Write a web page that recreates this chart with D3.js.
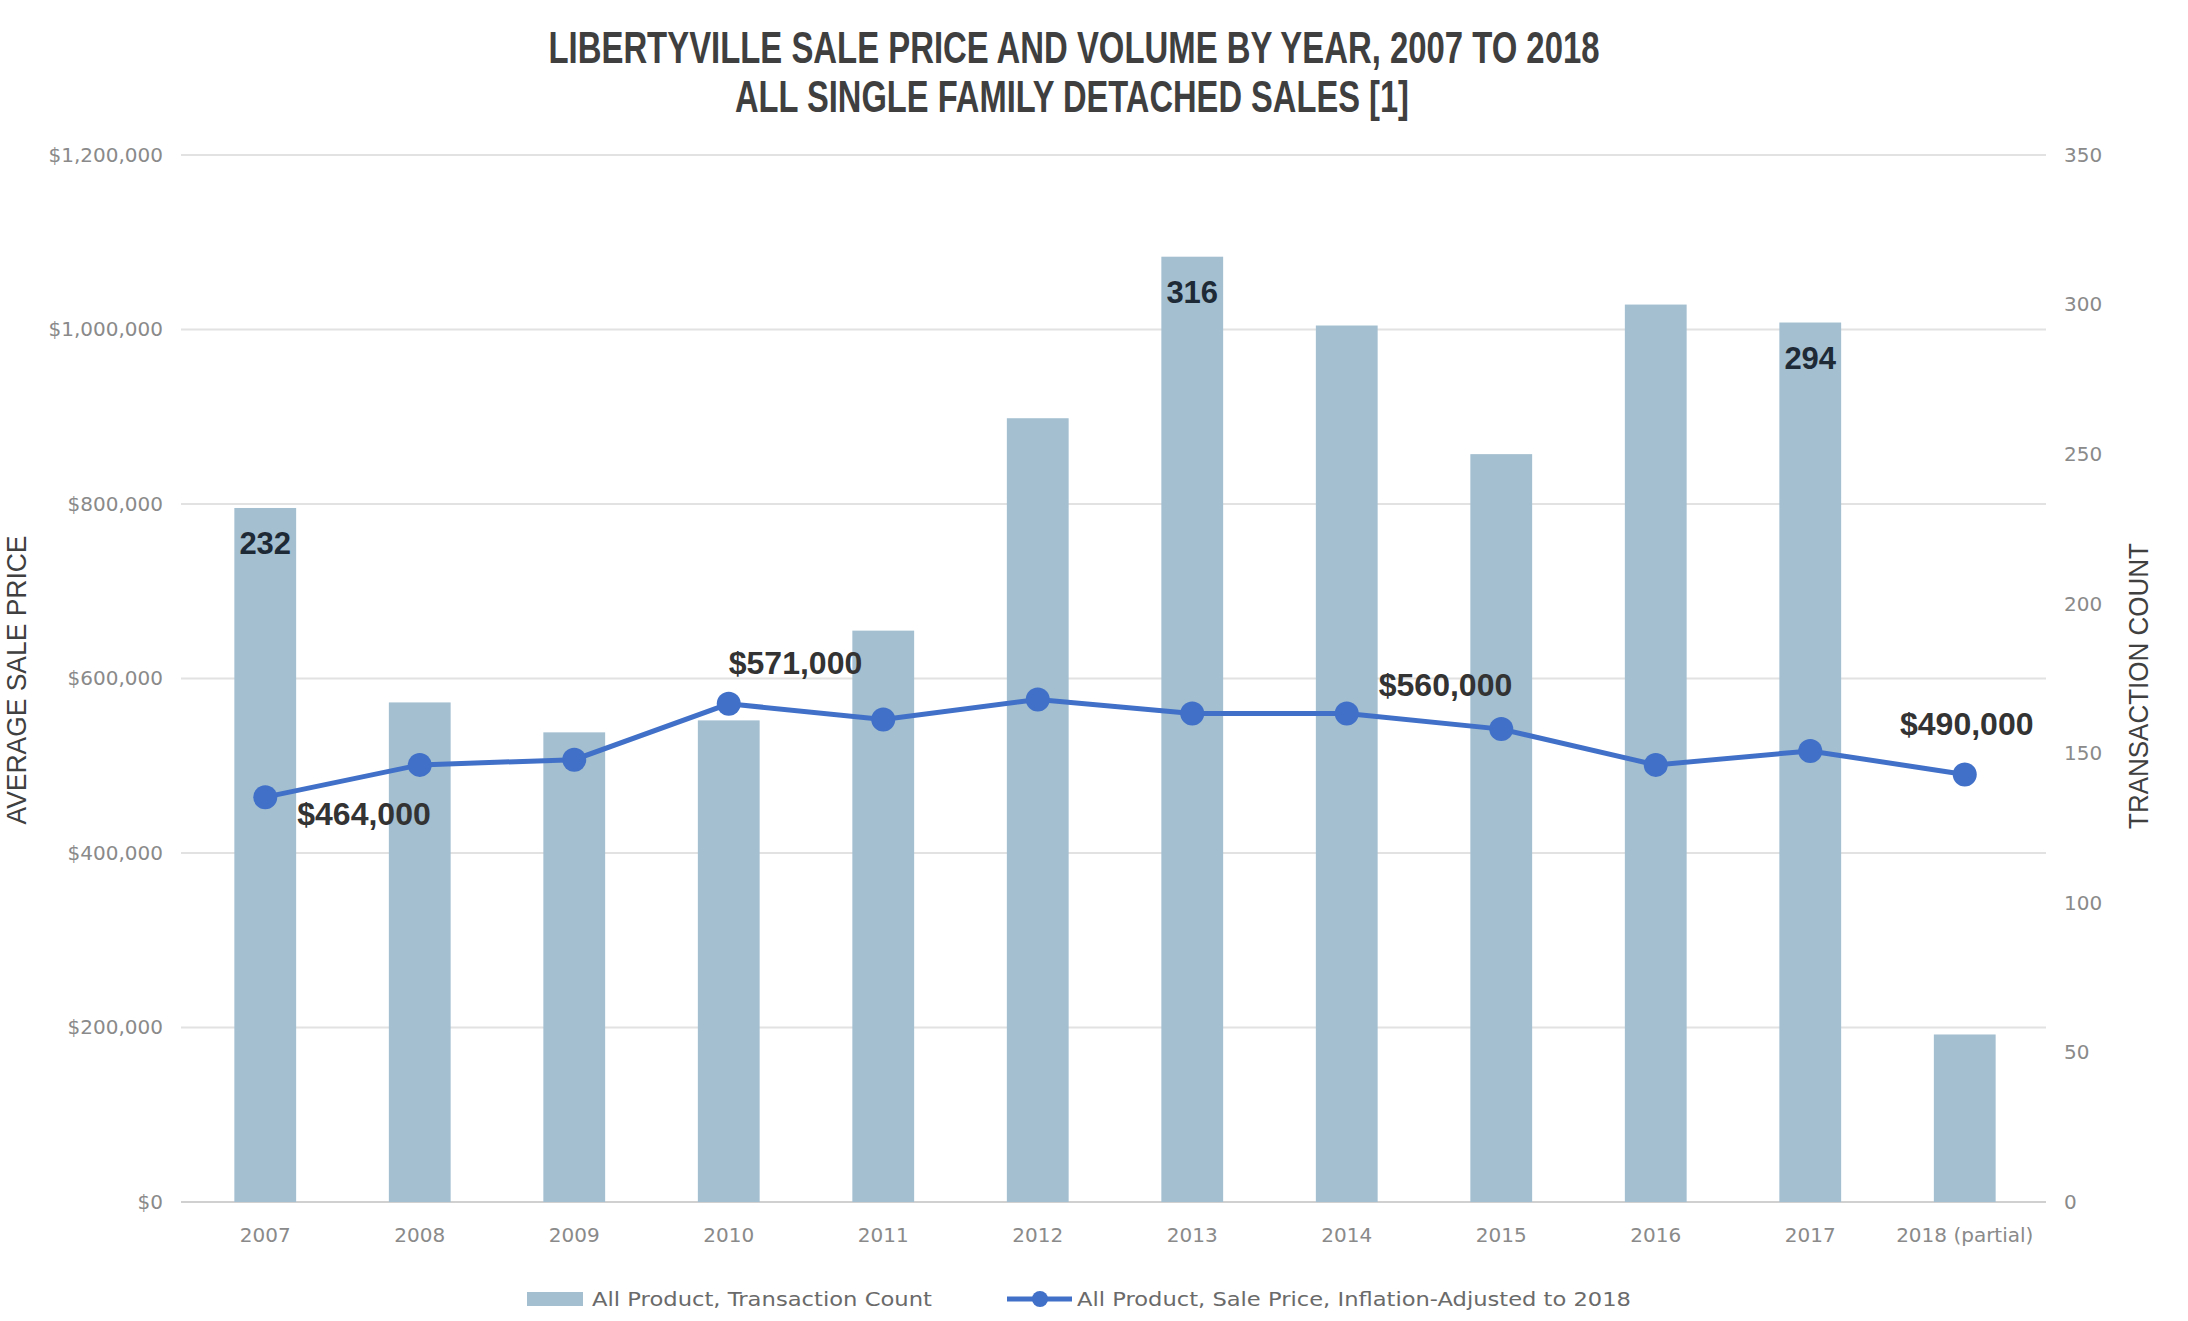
<!DOCTYPE html>
<html>
<head>
<meta charset="utf-8">
<script src="https://cdn.jsdelivr.net/npm/d3@7"></script>
<style>
  body { margin: 0; background: #fff; }
</style>
</head>
<body>
<svg id="chart" width="2188" height="1321"></svg>
<script>
// data
var years = ["2007", "2008", "2009", "2010", "2011", "2012", "2013", "2014", "2015", "2016", "2017", "2018 (partial)"];
var counts = [232, 167, 157, 161, 191, 262, 316, 293, 250, 300, 294, 56];
var prices = [464000, 501000, 507000, 571000, 553000, 576000, 560000, 560000, 542000, 501000, 517000, 490000];
var priceTicks = [0, 200000, 400000, 600000, 800000, 1000000, 1200000];
var countTicks = [0, 50, 100, 150, 200, 250, 300, 350];
var labelledCounts = ["2007", "2013", "2017"];
var labelledPrices = ["2007", "2010", "2014", "2018 (partial)"];

var svg = d3.select("#chart"),
    top0 = 155, bottom0 = 1202,
    left0 = 188, right0 = 2042;

var x = d3.scaleBand()
    .domain(years)
    .range([left0, right0])
    .paddingInner(0.6)
    .paddingOuter(0.3);

var yPrice = d3.scaleLinear().domain([0, 1200000]).range([bottom0, top0]);
var yCount = d3.scaleLinear().domain([0, 350]).range([bottom0, top0]);

var barColor = "#a3bfd0",
    lineColor = "#4070c8",
    tickColor = "#8a8a8a";

// gridlines
svg.append("g")
  .selectAll("line")
  .data(priceTicks)
  .enter().append("line")
    .attr("x1", 181).attr("x2", 2046)
    .attr("y1", function(d) { return yPrice(d); })
    .attr("y2", function(d) { return yPrice(d); })
    .attr("stroke", function(d) { return d === 0 ? "#d0d0d0" : "#e2e2e2"; })
    .attr("stroke-width", 2);

// left axis
var leftAxis = svg.append("g")
    .attr("transform", "translate(181,0)")
    .call(d3.axisLeft(yPrice).tickValues(priceTicks).tickSize(0).tickPadding(18).tickFormat(d3.format("$,.0f")));
leftAxis.select(".domain").remove();
leftAxis.selectAll("text")
    .attr("fill", tickColor)
    .style("font-family", "'DejaVu Sans', sans-serif")
    .style("font-size", "20px");

// right axis
var rightAxis = svg.append("g")
    .attr("transform", "translate(2044,0)")
    .call(d3.axisRight(yCount).tickValues(countTicks).tickSize(0).tickPadding(20));
rightAxis.select(".domain").remove();
rightAxis.selectAll("text")
    .attr("fill", tickColor)
    .style("font-family", "'DejaVu Sans', sans-serif")
    .style("font-size", "20px");

// bottom axis
var bottomAxis = svg.append("g")
    .attr("transform", "translate(0," + bottom0 + ")")
    .call(d3.axisBottom(x).tickSize(0).tickPadding(26));
bottomAxis.select(".domain").remove();
bottomAxis.selectAll("text")
    .attr("fill", tickColor)
    .style("font-family", "'DejaVu Sans', sans-serif")
    .style("font-size", "20px");

// bars
svg.append("g")
  .selectAll("rect")
  .data(years)
  .enter().append("rect")
    .attr("x", function(d) { return x(d); })
    .attr("width", x.bandwidth())
    .attr("y", function(d, i) { return yCount(counts[i]); })
    .attr("height", function(d, i) { return bottom0 - yCount(counts[i]); })
    .attr("fill", barColor);

// bar value labels
svg.append("g")
  .selectAll("text")
  .data(years.filter(function(d) { return labelledCounts.indexOf(d) >= 0; }))
  .enter().append("text")
    .attr("x", function(d) { return x(d) + x.bandwidth() / 2; })
    .attr("y", function(d) { return yCount(counts[years.indexOf(d)]) + 46; })
    .attr("text-anchor", "middle")
    .attr("fill", "#1e2a36")
    .style("font-family", "'Liberation Sans', Arial, sans-serif")
    .style("font-weight", "bold")
    .style("font-size", "31px")
    .text(function(d) { return counts[years.indexOf(d)]; });

// price line
var line = d3.line()
    .x(function(d, i) { return x(years[i]) + x.bandwidth() / 2; })
    .y(function(d) { return yPrice(d); });

svg.append("path")
    .datum(prices)
    .attr("d", line)
    .attr("fill", "none")
    .attr("stroke", lineColor)
    .attr("stroke-width", 5);

svg.append("g")
  .selectAll("circle")
  .data(prices)
  .enter().append("circle")
    .attr("cx", function(d, i) { return x(years[i]) + x.bandwidth() / 2; })
    .attr("cy", function(d) { return yPrice(d); })
    .attr("r", 12)
    .attr("fill", lineColor);

// price labels, placed like the original
var priceLabelPlace = {
  "2007": { dx: 32, dy: 28, anchor: "start" },
  "2010": { dx: 0, dy: -30, anchor: "start" },
  "2014": { dx: 32, dy: -17, anchor: "start" },
  "2018 (partial)": { dx: 2, dy: -39, anchor: "middle" }
};

svg.append("g")
  .selectAll("text")
  .data(labelledPrices)
  .enter().append("text")
    .attr("x", function(d) { return x(d) + x.bandwidth() / 2 + priceLabelPlace[d].dx; })
    .attr("y", function(d) { return yPrice(prices[years.indexOf(d)]) + priceLabelPlace[d].dy; })
    .attr("text-anchor", function(d) { return priceLabelPlace[d].anchor; })
    .attr("fill", "#333")
    .style("font-family", "'Liberation Sans', Arial, sans-serif")
    .style("font-weight", "bold")
    .style("font-size", "32px")
    .text(function(d) { return d3.format("$,.0f")(prices[years.indexOf(d)]); });

// title
var title = svg.append("g")
    .attr("fill", "#3f3f3f")
    .style("font-family", "'Liberation Sans Narrow', 'Arial Narrow', 'Liberation Sans', sans-serif")
    .style("font-weight", "bold")
    .style("font-size", "44px");
title.append("text")
    .attr("x", 1074).attr("y", 63)
    .attr("text-anchor", "middle")
    .attr("textLength", 1051).attr("lengthAdjust", "spacingAndGlyphs")
    .text("LIBERTYVILLE SALE PRICE AND VOLUME BY YEAR, 2007 TO 2018");
title.append("text")
    .attr("x", 1072).attr("y", 112)
    .attr("text-anchor", "middle")
    .attr("textLength", 674).attr("lengthAdjust", "spacingAndGlyphs")
    .text("ALL SINGLE FAMILY DETACHED SALES [1]");

// axis titles
svg.append("text")
    .attr("transform", "translate(26,680)rotate(-90)")
    .attr("text-anchor", "middle")
    .attr("fill", "#404040")
    .attr("textLength", 289).attr("lengthAdjust", "spacingAndGlyphs")
    .style("font-family", "'Liberation Sans Narrow', 'Liberation Sans', sans-serif")
    .style("font-size", "27px")
    .text("AVERAGE SALE PRICE");

svg.append("text")
    .attr("transform", "translate(2148,686)rotate(-90)")
    .attr("text-anchor", "middle")
    .attr("fill", "#404040")
    .attr("textLength", 286).attr("lengthAdjust", "spacingAndGlyphs")
    .style("font-family", "'Liberation Sans Narrow', 'Liberation Sans', sans-serif")
    .style("font-size", "27px")
    .text("TRANSACTION COUNT");

// legend
var legend = svg.append("g")
    .style("font-family", "'DejaVu Sans', sans-serif")
    .style("font-size", "20px")
    .attr("fill", "#6a6a6a");

legend.append("rect")
    .attr("x", 527).attr("y", 1292)
    .attr("width", 56).attr("height", 14)
    .attr("fill", barColor);
legend.append("text")
    .attr("x", 592).attr("y", 1306)
    .attr("textLength", 340).attr("lengthAdjust", "spacingAndGlyphs")
    .text("All Product, Transaction Count");

legend.append("line")
    .attr("x1", 1007).attr("x2", 1072)
    .attr("y1", 1299).attr("y2", 1299)
    .attr("stroke", lineColor)
    .attr("stroke-width", 5);
legend.append("circle")
    .attr("cx", 1040).attr("cy", 1299)
    .attr("r", 8)
    .attr("fill", lineColor);
legend.append("text")
    .attr("x", 1077).attr("y", 1306)
    .attr("textLength", 554).attr("lengthAdjust", "spacingAndGlyphs")
    .text("All Product, Sale Price, Inflation-Adjusted to 2018");
</script>
</body>
</html>
